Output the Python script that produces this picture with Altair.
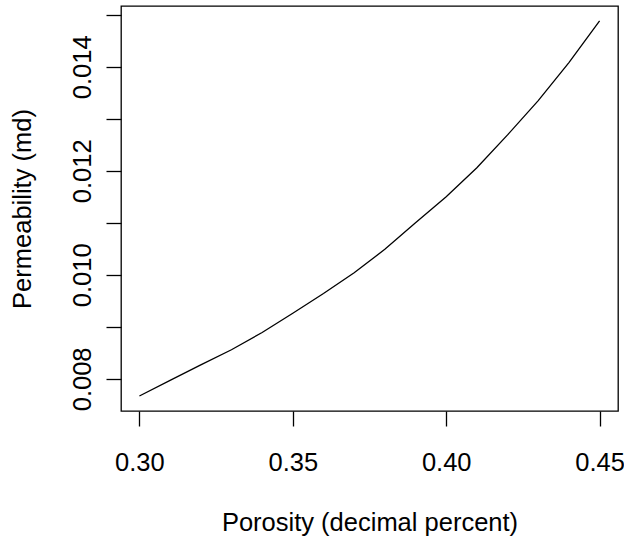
import altair as alt
import pandas as pd

# Permeability computed at porosity steps of 0.01
porosity = [0.30, 0.31, 0.32, 0.33, 0.34, 0.35, 0.36, 0.37,
            0.38, 0.39, 0.40, 0.41, 0.42, 0.43, 0.44, 0.45]
permeability = [0.00767, 0.00797, 0.00827, 0.00856, 0.00889, 0.00926,
                0.00964, 0.01004, 0.01049, 0.01100, 0.01150, 0.01206,
                0.01269, 0.01335, 0.01408, 0.01488]

x_ticks = [0.30, 0.35, 0.40, 0.45]
y_ticks = [0.008, 0.009, 0.010, 0.011, 0.012, 0.013, 0.014, 0.015]

df = pd.DataFrame({"phi": porosity, "k": permeability})

FONT = "Liberation Sans"
SIZE = 25.5

chart = alt.Chart(df).mark_line(color="black", strokeWidth=1.3).encode(
    x=alt.X(
        "phi:Q",
        scale=alt.Scale(domain=[0.294, 0.456], nice=False, zero=False),
        axis=alt.Axis(
            values=x_ticks,
            format=".2f",
            title="Porosity (decimal percent)",
            grid=False,
            domain=False,
            tickSize=15,
            tickColor="black",
            tickWidth=1.3,
            labelPadding=44,
            labelBaseline="alphabetic",
            labelFont=FONT,
            labelFontSize=SIZE,
            labelColor="black",
            labelFlush=False,
            labelOverlap=False,
            titleFont=FONT,
            titleFontSize=SIZE,
            titleFontWeight="normal",
            titleColor="black",
            titleBaseline="alphabetic",
            titleY=119,
        ),
    ),
    y=alt.Y(
        "k:Q",
        scale=alt.Scale(domain=[0.007382, 0.015168], nice=False, zero=False),
        axis=alt.Axis(
            values=y_ticks,
            labelExpr="round(datum.value * 1000) % 2 == 0 ? format(datum.value, '.3f') : ''",
            title="Permeability (md)",
            grid=False,
            domain=False,
            tickSize=15,
            tickColor="black",
            tickWidth=1.3,
            labelAngle=-90,
            labelAlign="center",
            labelBaseline="alphabetic",
            labelPadding=15.5,
            labelFont=FONT,
            labelFontSize=SIZE,
            labelColor="black",
            labelFlush=False,
            labelOverlap=False,
            titleFont=FONT,
            titleFontSize=SIZE,
            titleFontWeight="normal",
            titleColor="black",
            titleAngle=-90,
            titleAlign="center",
            titleBaseline="alphabetic",
            titleX=-91,
        ),
    ),
).properties(
    width=497,
    height=405,
    autosize=alt.AutoSizeParams(type="none"),
    padding={"left": 121, "top": 6, "right": 6, "bottom": 127},
    background="white",
).configure_view(
    stroke="black",
    strokeWidth=1.3,
    fill="white",
)

chart.save("out.html", embed_options={"renderer": "svg", "actions": False})
